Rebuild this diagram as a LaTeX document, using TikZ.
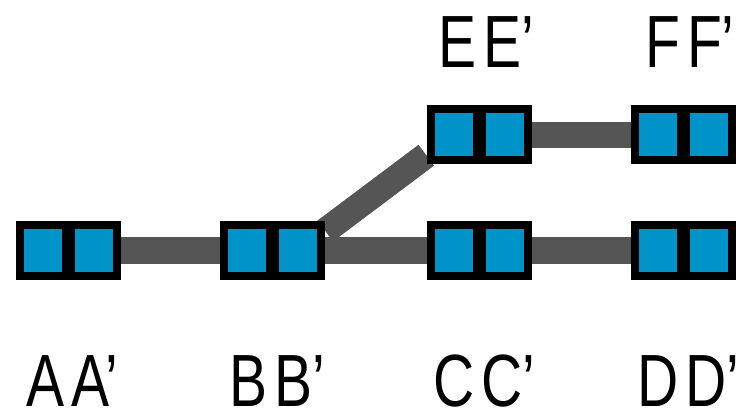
\documentclass[tikz,border=0pt]{standalone}
\usepackage{fontspec}
\setmainfont{Liberation Sans}
\usetikzlibrary{backgrounds}
\definecolor{unitblue}{RGB}{0,147,201}
\definecolor{linkgray}{RGB}{85,85,85}
\newcommand{\lbltext}[2]{\scalebox{0.77}[1]{#1\kern9pt#2’}}
\tikzset{
  unitbox/.style={fill=black, draw=none, inner sep=0pt, minimum width=105pt, minimum height=59pt,
    path picture={
      \fill[unitblue] ([shift={(8pt,8pt)}]path picture bounding box.south west) rectangle ++(38pt,43pt);
      \fill[unitblue] ([shift={(59pt,8pt)}]path picture bounding box.south west) rectangle ++(38pt,43pt);
    }},
  link/.style={draw=linkgray, line width=26pt, line cap=butt},
  lbl/.style={anchor=base, inner sep=0pt, text depth=0pt, font=\fontsize{74}{74}\selectfont}
}
\begin{document}
\begin{tikzpicture}[x=1pt,y=-1pt]
\useasboundingbox (0,0) rectangle (747,414);
\node[unitbox] (A) at (68.5,250.5) {};
\node[unitbox] (B) at (272.5,250.5) {};
\node[unitbox] (C) at (479.5,250.5) {};
\node[unitbox] (D) at (683.5,250.5) {};
\node[unitbox] (E) at (479.5,135) {};
\node[unitbox] (F) at (683.5,135) {};
\coordinate (bj) at ([yshift=19.5pt]B.east);
\coordinate (ej) at ([shift={(-0.5pt,9.5pt)}]E.south west);
\begin{scope}[on background layer]
\draw[link] (A) -- (B);
\draw[link] (B) -- (C);
\draw[link] (C) -- (D);
\draw[link] (E) -- (F);
\draw[link] (bj) -- (ej);
\end{scope}
\node[lbl] (la) at (72,406) {\lbltext{A}{A}};
\node[lbl] (lb) at (277,406) {\lbltext{B}{B}};
\node[lbl] (lc) at (484,406) {\lbltext{C}{C}};
\node[lbl] (ld) at (688,406) {\lbltext{D}{D}};
\node[lbl] (le) at (486,68) {\lbltext{E}{E}};
\node[lbl] (lf) at (690,68) {\lbltext{F}{F}};
\end{tikzpicture}
\end{document}
